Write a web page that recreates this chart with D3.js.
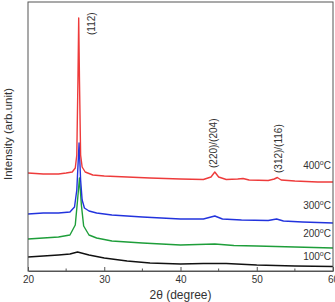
<!DOCTYPE html>
<html>
<head>
<style>
  body { margin: 0; background: #fff; }
  text { font-family: Arial, "Liberation Sans", sans-serif; fill: #333; }
</style>
</head>
<body>
<script src="https://cdn.jsdelivr.net/npm/d3@7/dist/d3.min.js"></script>
<script>
// XRD patterns (2theta in degrees, intensity in arb. units)
var theta400 = [20, 22, 24, 25, 25.8, 26.2, 26.4, 26.55, 26.65, 26.75, 26.9, 27.1, 27.5, 28.5, 30, 33, 36, 40, 43, 44, 44.5, 45, 46, 47.5, 48.2, 49, 51.5, 52.3, 52.7, 53.2, 55, 58, 60];
var int400   = [98, 97, 97, 98, 99, 103, 116, 191, 253, 191, 116, 104, 99, 96, 95, 94, 93, 92, 91.5, 94, 99, 94, 91.5, 92, 92.5, 91, 90.5, 92, 93.5, 91, 90, 89, 89];

var theta300 = [20, 22, 24, 25.5, 26.1, 26.4, 26.7, 26.9, 27.1, 27.4, 28, 29, 31, 35, 40, 43, 44.5, 45.5, 48, 51.5, 52.6, 53.5, 56, 60];
var int300   = [57, 58, 58, 59, 64, 81, 128, 91, 71, 63, 60, 58, 56, 54, 52, 52, 55, 52, 51, 50.5, 52, 50, 49, 48];

var theta200 = [20, 22, 24, 25.5, 26.2, 26.5, 26.75, 27.0, 27.3, 28, 29, 31, 35, 40, 44.5, 47, 50, 55, 60];
var int200   = [32, 33, 34, 36, 46, 71, 93, 66, 45, 36, 33, 30, 28, 26, 27, 25.5, 25, 24, 23];

var theta100 = [20, 22, 24, 25.5, 26.5, 27, 28, 30, 33, 36, 40, 43, 46, 50, 55, 60];
var int100   = [14, 15, 16, 17, 19, 18, 16, 13, 10, 8, 7, 7.5, 7.5, 6, 5, 4.5];

var tempLabels = ["400", "300", "200", "100"];
var tempLabelY = [106, 66, 38, 15];

var peakLabels = ["(112)", "(220)/(204)", "(312)/(116)"];
var peakTheta  = [28.3, 44.3, 52.9];
var peakY      = [236, 103, 98];

var xTicks = [20, 30, 40, 50, 60];
var xMinor = [25, 35, 45, 55];

var width = 335, height = 302;
var margin = {top: 2, right: 2, bottom: 31, left: 28};

var x = d3.scaleLinear().domain([20, 60]).range([margin.left, width - margin.right]);
var y = d3.scaleLinear().domain([0, 269]).range([height - margin.bottom, margin.top]);

var svg = d3.select("body").append("svg")
  .attr("width", width)
  .attr("height", height);

var series = [
  {t: theta100, v: int100, color: "#111111"},
  {t: theta200, v: int200, color: "#1e9e3a"},
  {t: theta300, v: int300, color: "#2233dd"},
  {t: theta400, v: int400, color: "#ee3b3b"}
];

var line = d3.line()
  .x(function(d) { return x(d[0]); })
  .y(function(d) { return y(d[1]); });

series.forEach(function(s) {
  svg.append("path")
    .datum(d3.zip(s.t, s.v))
    .attr("d", line)
    .attr("fill", "none")
    .attr("stroke", s.color)
    .attr("stroke-width", 1.4)
    .attr("stroke-linejoin", "round");
});

// frame
svg.append("rect")
  .attr("x", margin.left)
  .attr("y", margin.top)
  .attr("width", width - margin.left - margin.right)
  .attr("height", height - margin.bottom - margin.top)
  .attr("fill", "none")
  .attr("stroke", "#555")
  .attr("stroke-width", 1);

// x axis, ticks pointing inward
var xAxis = svg.append("g")
  .attr("transform", "translate(0," + (height - margin.bottom) + ")")
  .call(d3.axisBottom(x).tickValues(xTicks).tickSizeInner(-4).tickSizeOuter(0).tickPadding(5));
xAxis.select(".domain").attr("stroke", "#555");
xAxis.selectAll(".tick line").attr("stroke", "#555");
xAxis.selectAll(".tick text").attr("font-size", 10).attr("fill", "#444");

svg.append("g").selectAll("line")
  .data(xMinor)
  .enter().append("line")
  .attr("x1", function(d) { return x(d); })
  .attr("x2", function(d) { return x(d); })
  .attr("y1", height - margin.bottom)
  .attr("y2", height - margin.bottom - 2.5)
  .attr("stroke", "#555");

// axis titles
svg.append("text")
  .attr("x", x(40))
  .attr("y", 299)
  .attr("text-anchor", "middle")
  .attr("font-size", 12)
  .text("2\u03b8 (degree)");

svg.append("text")
  .attr("transform", "translate(12," + 134 + ") rotate(-90)")
  .attr("text-anchor", "middle")
  .attr("font-size", 11.5)
  .text("Intensity (arb.unit)");

// temperature labels
tempLabels.forEach(function(t, i) {
  var tx = svg.append("text")
    .attr("x", width - 4)
    .attr("y", y(tempLabelY[i]) + 4)
    .attr("text-anchor", "end")
    .attr("font-size", 10)
    .attr("fill", "#444");
  tx.append("tspan").text(t);
  tx.append("tspan").attr("font-size", 7).attr("dy", -4).text("o");
  tx.append("tspan").attr("dy", 4).text("C");
});

// peak index labels
peakLabels.forEach(function(p, i) {
  svg.append("text")
    .attr("transform", "translate(" + x(peakTheta[i]) + "," + y(peakY[i]) + ") rotate(-90)")
    .attr("dy", "0.35em")
    .attr("font-size", 10)
    .attr("fill", "#444")
    .text(p);
});
</script>
</body>
</html>
